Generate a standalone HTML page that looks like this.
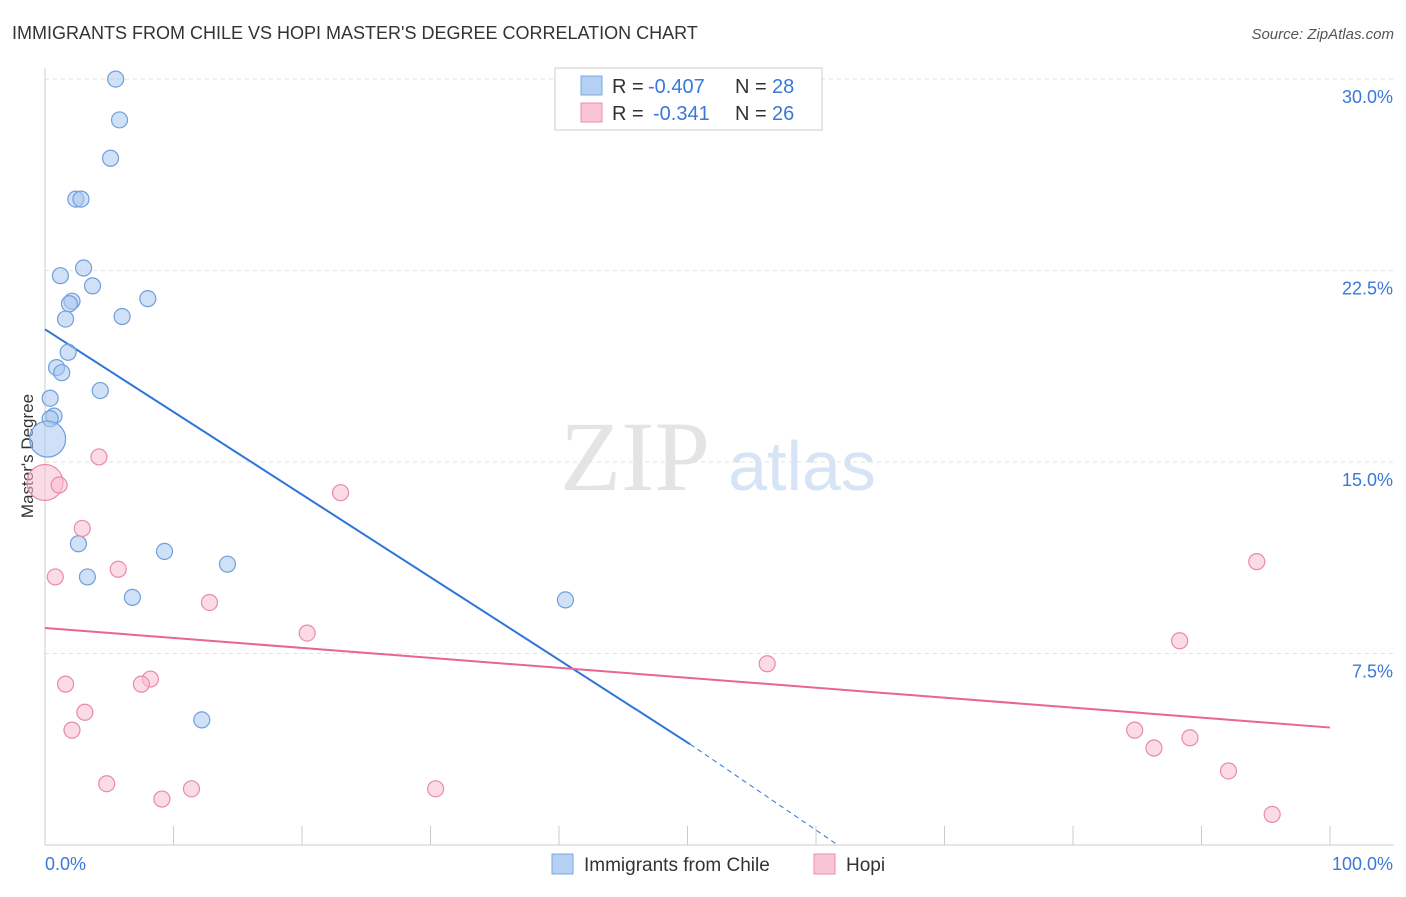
<!DOCTYPE html>
<html><head><meta charset="utf-8"><style>
body{margin:0;background:#fff;font-family:"Liberation Sans",sans-serif;}
svg text{font-family:"Liberation Sans",sans-serif;}
</style></head><body>
<svg id="chart" width="1406" height="892" xmlns="http://www.w3.org/2000/svg">
<text x="12" y="39" font-size="18" fill="#333">IMMIGRANTS FROM CHILE VS HOPI MASTER'S DEGREE CORRELATION CHART</text>
<text x="1394" y="39" font-size="15" fill="#555" text-anchor="end" font-style="italic">Source: ZipAtlas.com</text>
<text x="33" y="456" font-size="17" fill="#333" text-anchor="middle" transform="rotate(-90 33 456)">Master's Degree</text>
<g>
<text x="635" y="490" font-size="100" fill="#e4e4e4" text-anchor="middle" font-family="Liberation Serif" style="font-family:'Liberation Serif',serif">ZIP</text>
<text x="802" y="490" font-size="70" fill="#d6e4f5" text-anchor="middle">atlas</text>
</g>
<g id="grid"></g><g id="axes"></g><g id="trend"></g><g id="pts"></g>
<g>
<rect x="555" y="68" width="267" height="62" fill="#fff" stroke="#ccc"/>
<rect x="581" y="76" width="21" height="19" fill="#b5d0f3" stroke="#7aa8e0"/>
<text x="612" y="93" font-size="20" fill="#333">R =</text>
<text x="648" y="93" font-size="20" fill="#3a78d8">-0.407</text>
<text x="735" y="93" font-size="20" fill="#333">N =</text>
<text x="772" y="93" font-size="20" fill="#3a78d8">28</text>
<rect x="581" y="103" width="21" height="19" fill="#f8c5d5" stroke="#ec8eae"/>
<text x="612" y="120" font-size="20" fill="#333">R =</text>
<text x="653" y="120" font-size="20" fill="#3a78d8">-0.341</text>
<text x="735" y="120" font-size="20" fill="#333">N =</text>
<text x="772" y="120" font-size="20" fill="#3a78d8">26</text>
</g>
<g>
<rect x="552" y="854" width="21" height="20" fill="#b5d0f3" stroke="#7aa8e0"/>
<text x="584" y="871" font-size="19" fill="#333">Immigrants from Chile</text>
<rect x="814" y="854" width="21" height="20" fill="#f8c5d5" stroke="#ec8eae"/>
<text x="846" y="871" font-size="19" fill="#333">Hopi</text>
</g>
</svg>
<script>
const yTicks=[7.5,15,22.5,30];
const yTickLabels=["7.5%","15.0%","22.5%","30.0%"];
const chileX=[5.5,5.8,5.1,2.4,2.8,3.0,1.2,3.7,8.0,2.1,1.9,1.6,6.0,1.8,0.9,1.3,4.3,0.4,0.7,0.4,0.2,2.6,9.3,14.2,3.3,6.8,40.5,12.2];
const chileY=[30.0,28.4,26.9,25.3,25.3,22.6,22.3,21.9,21.4,21.3,21.2,20.6,20.7,19.3,18.7,18.5,17.8,17.5,16.8,16.7,15.9,11.8,11.5,11.0,10.5,9.7,9.6,4.9];
const hopiX=[0,1.1,4.2,23.0,2.9,0.8,5.7,94.3,12.8,20.4,56.2,88.3,1.6,8.2,7.5,3.1,2.1,84.8,86.3,89.1,4.8,9.1,11.4,30.4,92.1,95.5];
const hopiY=[14.2,14.1,15.2,13.8,12.4,10.5,10.8,11.1,9.5,8.3,7.1,8.0,6.3,6.5,6.3,5.2,4.5,4.5,3.8,4.2,2.4,1.8,2.2,2.2,2.9,1.2];
const chileTrend=[[0,20.2],[50.2,3.95]];
const chileTrendExt=[[50.2,3.95],[61.7,0]];
const hopiTrend=[[0,8.5],[100,4.6]];
const NS="http://www.w3.org/2000/svg";
const X0=45,X1=1330,Y0=845,PPU=25.53;
const sx=v=>X0+(X1-X0)*v/100, sy=v=>Y0-v*PPU;
function mk(t,a,p){const e=document.createElementNS(NS,t);for(const k in a)e.setAttribute(k,a[k]);p.appendChild(e);return e;}
const grid=document.getElementById('grid'),axes=document.getElementById('axes');
yTicks.forEach((t,i)=>{
 const l=mk('line',{x1:X0,x2:1394,y1:sy(t),y2:sy(t),stroke:'#e2e2e2','stroke-dasharray':'4,4'},grid);
 
 
 const tx=mk('text',{x:1393,y:sy(t)+24,'font-size':18,fill:'#3a78d8','text-anchor':'end'},grid);tx.textContent=yTickLabels[i];
 
 
});
mk('line',{x1:X0,x2:X0,y1:68,y2:Y0,stroke:'#ccc'},axes);
mk('line',{x1:X0,x2:1394,y1:Y0,y2:Y0,stroke:'#ccc'},axes);
for(let i=0;i<=10;i++){const t=mk('line',{x1:sx(i*10),x2:sx(i*10),y1:826,y2:Y0,stroke:'#ccc'},axes);
 
 }
let a=mk('text',{x:45,y:870,'font-size':18,fill:'#3a78d8'},axes);a.textContent='0.0%';


a=mk('text',{x:1393,y:870,'font-size':18,fill:'#3a78d8','text-anchor':'end'},axes);a.textContent='100.0%';


const pts=document.getElementById('pts');
function dots(xs,ys,fill,stroke,name){xs.forEach((x,i)=>{
 const big=(x<0.5&&(ys[i]>15.5&&ys[i]<16.2||ys[i]>14&&ys[i]<14.4));
 const c=mk('circle',{cx:sx(x),cy:sy(ys[i]),r:big?18:8,fill:fill,'fill-opacity':0.55,stroke:stroke,'stroke-width':1.2},pts);
 
 });}
dots(chileX,chileY,'#a9c9f0','#6f9fdc','chile-point');
dots(hopiX,hopiY,'#f7bdd0','#e98aab','hopi-point');
const tr=document.getElementById('trend');
let l=mk('line',{x1:sx(chileTrend[0][0]),y1:sy(chileTrend[0][1]),x2:sx(chileTrend[1][0]),y2:sy(chileTrend[1][1]),stroke:'#2f74d8','stroke-width':2},tr);


l=mk('line',{x1:sx(chileTrendExt[0][0]),y1:sy(chileTrendExt[0][1]),x2:sx(chileTrendExt[1][0]),y2:sy(chileTrendExt[1][1]),stroke:'#2f74d8','stroke-width':1,'stroke-dasharray':'5,4'},tr);


l=mk('line',{x1:sx(hopiTrend[0][0]),y1:sy(hopiTrend[0][1]),x2:sx(hopiTrend[1][0]),y2:sy(hopiTrend[1][1]),stroke:'#e8668f','stroke-width':2},tr);


</script>
</body></html>
